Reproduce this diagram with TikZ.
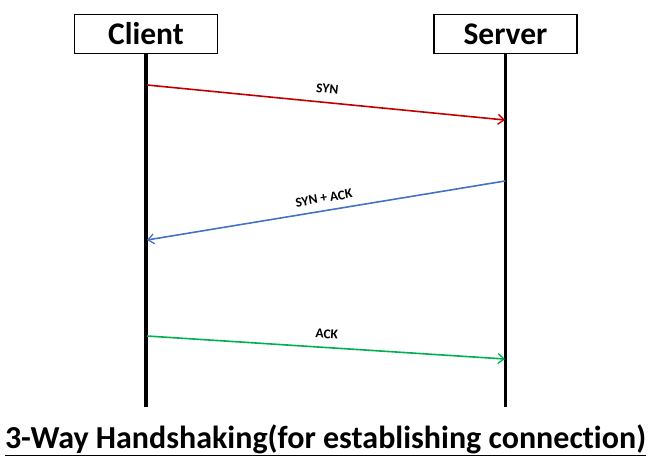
\documentclass[tikz,border=0pt]{standalone}
\usepackage{fontspec}
\setmainfont[Ligatures=NoCommon]{Carlito}
\usepackage{tikz}
\usetikzlibrary{arrows.meta, positioning}
\definecolor{rojo}{RGB}{192,0,0}
\definecolor{azul}{RGB}{68,114,196}
\definecolor{verde}{RGB}{0,176,80}
\tikzset{
  entidad/.style={rectangle, draw=black, fill=white, line width=1.6pt,
    minimum width=143pt, minimum height=39pt, inner sep=0pt,
    font=\fontsize{31.5}{34}\selectfont\bfseries},
  vida/.style={line width=3.6pt, color=black},
  mensaje/.style={-{Straight Barb[length=6pt, width=10pt, line width=1.3pt]},
    line width=1.6pt},
  etiq/.style={font=\fontsize{13.5}{15}\selectfont\bfseries, color=black,
    sloped, above=5pt, midway},
  titulo/.style={font=\fontsize{32}{36}\selectfont\bfseries, inner sep=0pt}
}
\begin{document}
\begin{tikzpicture}[x=1pt, y=-1pt]
  \useasboundingbox (0,0) rectangle (651,469);
  \node[entidad] (client) at (146,34) {Client};
  \node[entidad] (server) at (505.5,34) {Server};
  % lifelines
  \coordinate (clientfin) at (client.south |- 0,407);
  \coordinate (serverfin) at (server.south |- 0,407);
  \draw[vida] (client.south) -- (clientfin);
  \draw[vida] (server.south) -- (serverfin);
  % message ends
  \coordinate (c1) at (147,85);
  \coordinate (s1) at (505,120);
  \coordinate (s2) at (505,181);
  \coordinate (c2) at (147,240);
  \coordinate (c3) at (147,336);
  \coordinate (s3) at (505,359);
  \draw[mensaje, rojo] (c1) -- (s1) node[etiq] (syn) {SYN};
  \draw[mensaje, azul] (s2) -- (c2) node[etiq, above=4pt] (synack) {SYN + ACK};
  \draw[mensaje, verde] (c3) -- (s3) node[etiq] (ack) {ACK};
  \node[titulo] (tit) at (325.5,440) {\underline{3-Way Handshaking(for establishing connection)}};
\end{tikzpicture}
\end{document}
